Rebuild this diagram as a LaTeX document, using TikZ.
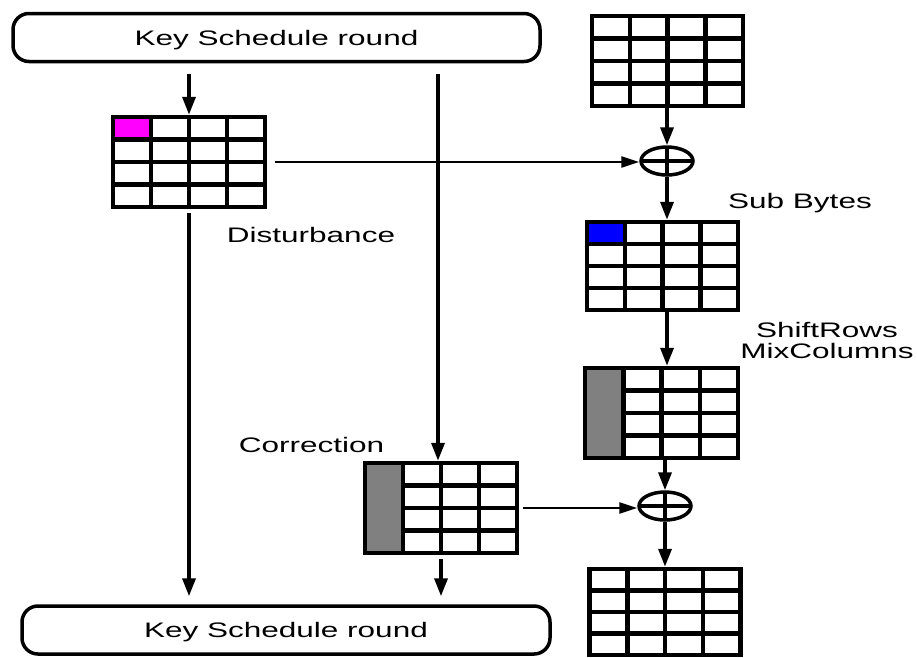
\documentclass[tikz,border=0pt]{standalone}
\usepackage{fontspec}
\setmainfont[FakeStretch=1.5]{Liberation Sans}
\usetikzlibrary{arrows.meta,calc,shapes.geometric}

\definecolor{hitpink}{RGB}{255,0,255}
\definecolor{hitblue}{RGB}{0,0,255}
\definecolor{colgray}{RGB}{128,128,128}

\tikzset{
  ksbox/.style={draw, line width=3.5pt, rounded corners=16pt, minimum height=48pt,
    inner sep=0pt, text height=15pt, text depth=0pt},
  statebox/.style={draw, line width=4.5pt, inner sep=0pt,
    path picture={
      \foreach \k in {1,2,3}{
        \draw[line width=4.5pt]
          ($(path picture bounding box.north west)!\k/4!(path picture bounding box.north east)$) --
          ($(path picture bounding box.south west)!\k/4!(path picture bounding box.south east)$);
        \draw[line width=4.5pt]
          ($(path picture bounding box.north west)!\k/4!(path picture bounding box.south west)$) --
          ($(path picture bounding box.north east)!\k/4!(path picture bounding box.south east)$);
      }
    }},
  xorop/.style={draw, ellipse, line width=3.5pt, minimum width=52pt, minimum height=28pt, inner sep=0pt,
    path picture={
      \draw[line width=3.5pt] (path picture bounding box.north) -- (path picture bounding box.south);
      \draw[line width=3.5pt] (path picture bounding box.west) -- (path picture bounding box.east);
    }},
  lbl/.style={inner sep=0pt, anchor=base},
  varr/.style={line width=3.5pt, -{Triangle[length=18pt,width=13pt]}},
  harr/.style={line width=2.5pt, -{Triangle[length=18pt,width=11pt]}}
}

\begin{document}
\begin{tikzpicture}[x=1pt, y=-1pt, font=\fontsize{21}{21}\selectfont]
  \useasboundingbox (0,0) rectangle (917,657);

  % key schedule rounds
  \node[ksbox, minimum width=527pt] (ks1) at (276.5,37.5) {Key Schedule round};
  \node[ksbox, minimum width=528pt] (ks2) at (286,630) {Key Schedule round};

  % state matrices
  \node[statebox, minimum width=151pt, minimum height=90pt] (g0) at (667.5,61) {};
  \node[statebox, minimum width=152pt, minimum height=90pt] (g1) at (189,162) {};
  \node[statebox, minimum width=151pt, minimum height=88pt] (g2) at (662.5,266) {};
  \node[statebox, minimum width=153pt, minimum height=90pt] (g3) at (661.5,413) {};
  \node[statebox, minimum width=152pt, minimum height=90pt] (g4) at (441,508) {};
  \node[statebox, minimum width=151pt, minimum height=86pt] (g5) at (665,612) {};

  % highlighted cells and columns
  \fill[hitpink] ($(g1.north west)+(4.5,4.5)$) rectangle ($(g1.north west)+(38,22.5)$);
  \fill[hitblue] ($(g2.north west)+(4.5,4.5)$) rectangle ($(g2.north west)+(37.75,22)$);
  \fill[colgray] ($(g3.north west)+(4.5,4.5)$) rectangle ($(g3.north west)+(38.25,90)$);
  \fill[colgray] ($(g4.north west)+(4.5,4.5)$) rectangle ($(g4.north west)+(38,90)$);

  % xor operators
  \node[xorop] (x1) at (667,161) {};
  \node[xorop] (x2) at (665,506) {};

  % labels
  \node[lbl] (dist) at (311,242) {Disturbance};
  \node[lbl] (corr) at (311.5,452) {Correction};
  \node[lbl] (sb)   at (800,208) {Sub Bytes};
  \node[lbl] (sr)   at (827,337) {ShiftRows};
  \node[lbl] (mc)   at (827,358) {MixColumns};

  % key path
  \draw[varr, shorten <=11pt] (ks1.south -| g1) -- (g1.north);
  \draw[varr, shorten <=4pt, shorten >=8pt] (g1.south) -- (g1.south |- ks2.north);
  \draw[varr, shorten <=11pt] (ks1.south -| 438,0) -- (g4.north -| 438,0);
  \draw[varr, shorten <=4pt, shorten >=8pt] (g4.south) -- (g4.south |- ks2.north);

  % injections into the state
  \draw[harr, shorten <=8pt] (g1.east) -- (g1.east -| x1.west);
  \draw[harr, shorten <=4pt] (g4.east) -- (g4.east -| x2.west);

  % state path
  \draw[varr] (g0.south -| x1) -- (x1.north);
  \draw[varr] (x1.south) -- (x1.south |- g2.north);
  \draw[varr] (g2.south -| x1) -- (g3.north -| x1);
  \draw[varr] (g3.south -| x2) -- (x2.north);
  \draw[varr] (x2.south) -- (x2.south |- g5.north);
\end{tikzpicture}
\end{document}
